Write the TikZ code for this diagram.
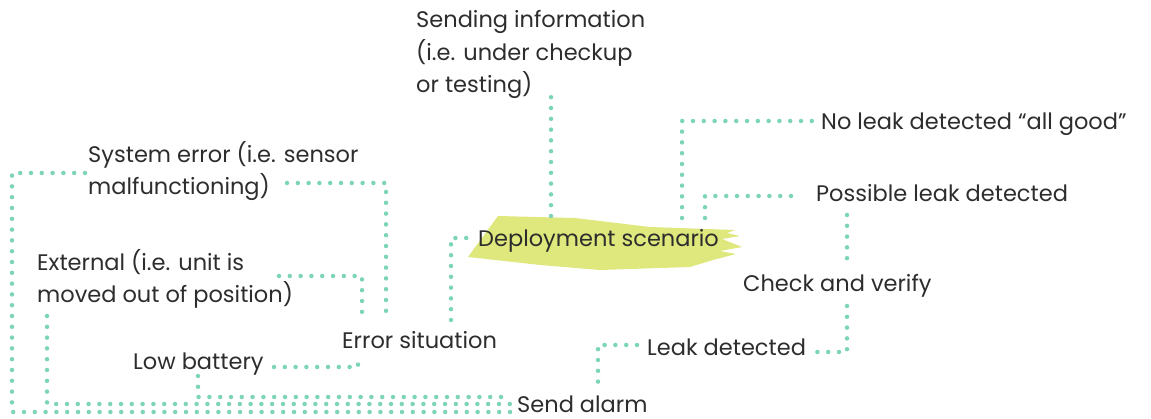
\documentclass[tikz,border=0pt]{standalone}
\usepackage{fontspec}
\setmainfont{Poppins}
\definecolor{dotgreen}{RGB}{125,212,184}
\definecolor{brushgreen}{RGB}{222,232,124}
\definecolor{textgray}{RGB}{45,45,45}

\begin{document}
\begin{tikzpicture}[x=1pt, y=-1pt,
  every node/.style={font=\fontsize{22.5}{32.5}\selectfont, text=textgray, inner sep=0pt, anchor=base west},
  dotline/.style={draw=dotgreen, line width=4.5pt, line cap=round, dash pattern=on 0pt off 10.8pt}]

  \useasboundingbox (0,0) rectangle (1151,419);

  %% Brush stroke behind the centre label
  \fill[brushgreen] (498,216) -- (575,218) -- (650,227) -- (735,230) -- (727,233)
    -- (740,236) -- (722,239) -- (742,247) -- (720,251) -- (736,254) -- (713,260)
    -- (690,267) -- (600,270) -- (540,265) -- (468,257) -- cycle;

  %% Labels (multi-line ones sit on their last baseline)
  \node (info) at (416,93) [align=left] {Sending information\\(i.e. under checkup\\or testing)};
  \node (sys) at (88,195) [align=left] {System error (i.e. sensor\\malfunctioning)};
  \node (ext) at (37,303) [align=left] {External (i.e. unit is\\moved out of position)};
  \node (bat) at (133,370) {Low battery};
  \node (err) at (342,349) {Error situation};
  \node (deploy) at (478,247) {Deployment scenario};
  \node (noleak) at (821,130) {No leak detected “all good”};
  \node (possible) at (816,202) {Possible leak detected};
  \node (check) at (743,292) {Check and verify};
  \node (leak) at (647,356) {Leak detected};
  \node (alarm) at (517,413) {Send alarm};

  %% Right branch
  \draw[dotline] ([shift={(73,-31)}]deploy.base west) -- ([shift={(135,1)}]info.base west);
  \draw[dotline] ([shift={(204,-29)}]deploy.base west) |- ([shift={(-9,-9)}]noleak.base west);
  \draw[dotline] ([shift={(227,-29)}]deploy.base west) |- ([shift={(-15,-6)}]possible.base west);
  \draw[dotline] ([shift={(31,13)}]possible.base west) -- ([shift={(104,-31)}]check.base west);
  \draw[dotline] ([shift={(104,14)}]check.base west) |- ([shift={(167,-4)}]leak.base west);
  \draw[dotline] ([shift={(-10,-11)}]leak.base west) -| ([shift={(81,-26)}]alarm.base west);

  %% Left branch
  \draw[dotline] ([shift={(109,-29)}]err.base west) |- ([shift={(-5,-9)}]deploy.base west);
  \draw[dotline] ([shift={(199,-12)}]sys.base west) -| ([shift={(44,-29)}]err.base west);
  \draw[dotline] ([shift={(242,-27)}]ext.base west) -| ([shift={(20,-29)}]err.base west);
  \draw[dotline] ([shift={(141,-3)}]bat.base west) -| ([shift={(16,7)}]err.base west);

  % Lines down to the alarm
  \draw[dotline] ([shift={(-3,-22)}]sys.base west) -| ([shift={(-505,-1)}]alarm.base west)
    -- ([shift={(-7,-1)}]alarm.base west);
  \draw[dotline] ([shift={(10,13)}]ext.base west) |- ([shift={(-7,-9)}]alarm.base west);
  \draw[dotline] ([shift={(65,6)}]bat.base west) |- ([shift={(-7,-16)}]alarm.base west);
\end{tikzpicture}
\end{document}
